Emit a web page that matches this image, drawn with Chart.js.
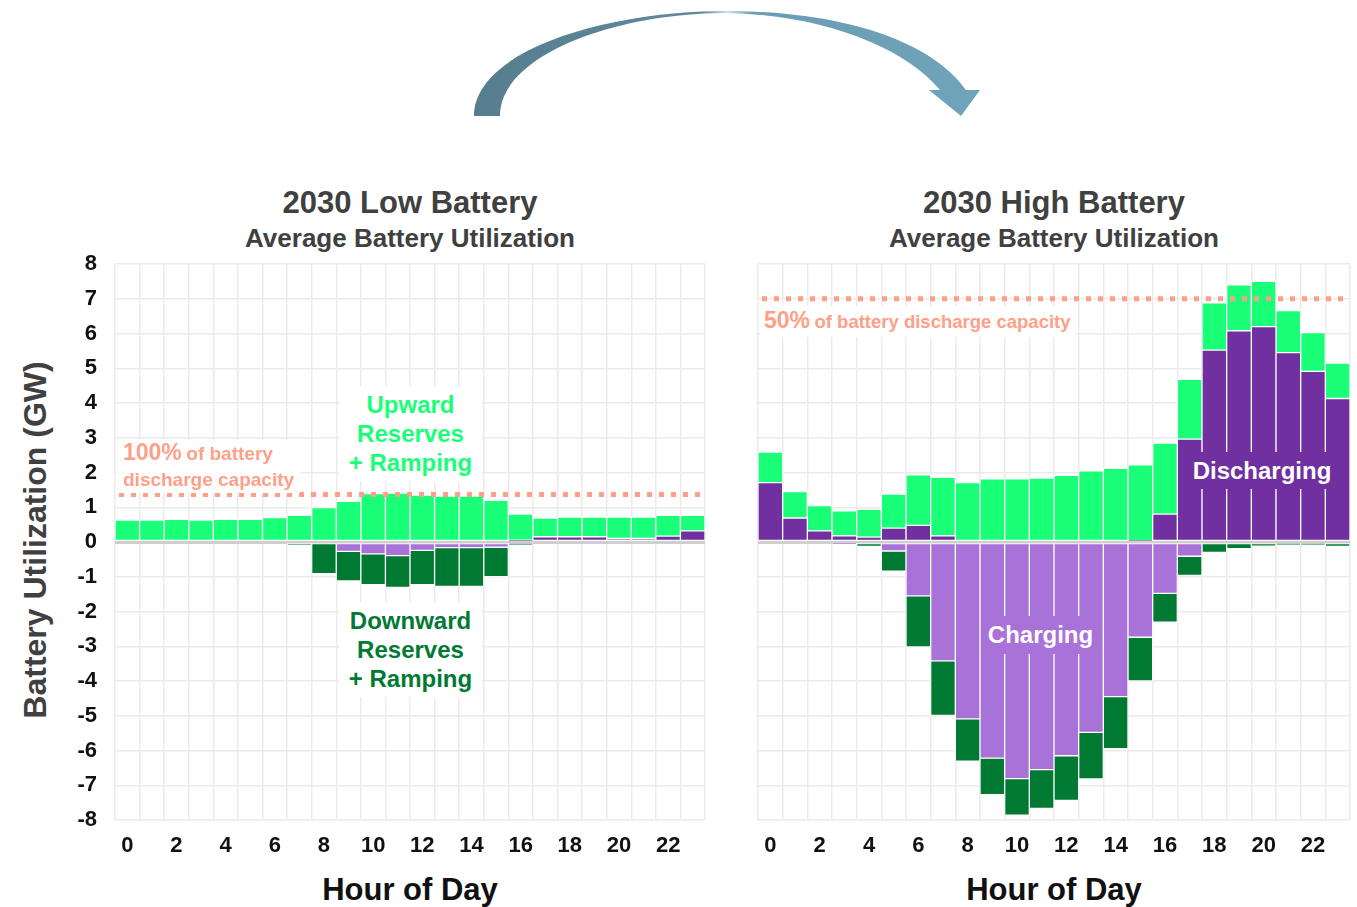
<!DOCTYPE html>
<html>
<head>
<meta charset="utf-8">
<script src="https://cdn.jsdelivr.net/npm/chart.js@4.4.0/dist/chart.umd.min.js"></script>
<style>
  body { margin: 0; background: #fff; width: 1357px; height: 907px; position: relative; overflow: hidden;
         font-family: "Liberation Sans", Arial, sans-serif; font-weight: bold; }
  .abs { position: absolute; }
  .title { color: #404040; text-align: center; width: 600px; white-space: nowrap; }
  .note { background: #fff; text-align: center; white-space: nowrap; }
  canvas { position: absolute; }
</style>
</head>
<body>

<svg class="abs" style="left:0;top:0" width="1357" height="140">
  <defs>
    <linearGradient id="arrowGrad" x1="470" y1="0" x2="985" y2="0" gradientUnits="userSpaceOnUse">
      <stop offset="0" stop-color="#557d8d"/>
      <stop offset="0.45" stop-color="#5f8a9c"/>
      <stop offset="0.5" stop-color="#cfe0e8"/>
      <stop offset="0.55" stop-color="#6a9cb2"/>
      <stop offset="1" stop-color="#6fa4ba"/>
    </linearGradient>
  </defs>
  <path fill="url(#arrowGrad)" d="M474 116 C474 52 600 12 723 11 C842 11 930 40 966 90 L980 90 L961 116 L929 90 L940 90
     C903 46 820 14 723 13 C612 14 500 56 500 116 Z"/>
</svg>

<div class="abs title" style="left:110px;top:184px;font-size:31px;line-height:38px">2030 Low Battery</div>
<div class="abs title" style="left:110px;top:223px;font-size:26px;line-height:30px">Average Battery Utilization</div>
<div class="abs title" style="left:754px;top:184px;font-size:31px;line-height:38px">2030 High Battery</div>
<div class="abs title" style="left:754px;top:223px;font-size:26px;line-height:30px">Average Battery Utilization</div>

<div class="abs" style="left:35px;top:540px;width:0;height:0">
  <div style="position:absolute;left:-300px;top:-20px;width:600px;text-align:center;line-height:40px;font-size:32px;color:#404040;transform:rotate(-90deg);white-space:nowrap">Battery Utilization (GW)</div>
</div>

<div class="abs title" style="left:110px;top:872px;font-size:31px;line-height:36px;color:#111">Hour of Day</div>
<div class="abs title" style="left:754px;top:872px;font-size:31px;line-height:36px;color:#111">Hour of Day</div>

<canvas id="lowChart" style="left:60px;top:250px" width="655" height="620"></canvas>
<canvas id="highChart" style="left:748px;top:250px" width="609" height="620"></canvas>

<div class="abs note" style="left:117px;top:440px;padding:0 6px;color:#ff9f87;text-align:left;line-height:25px">
  <span style="font-size:23px">100%</span> <span style="font-size:19px">of battery</span><br>
  <span style="font-size:19px">discharge capacity</span>
</div>
<div class="abs note" style="left:339px;top:386px;width:143px;padding:4px 0;font-size:24px;line-height:29px;color:#1aff78">
  Upward<br>Reserves<br>+ Ramping
</div>
<div class="abs note" style="left:339px;top:602px;width:143px;padding:4px 0;font-size:24px;line-height:29px;color:#007a33">
  Downward<br>Reserves<br>+ Ramping
</div>

<div class="abs note" style="left:760px;top:306px;padding:0 4px;color:#ff9f87;line-height:28px">
  <span style="font-size:23px">50%</span> <span style="font-size:18.5px">of battery discharge capacity</span>
</div>
<div class="abs note" style="left:1178px;top:452px;width:168px;height:37px;line-height:37px;font-size:24px;color:#fff;background:#7030a0">Discharging</div>
<div class="abs note" style="left:981px;top:616px;width:119px;height:38px;line-height:38px;font-size:24px;color:#fff;background:#a872d8">Charging</div>

<script>
const HOURS = ['0','1','2','3','4','5','6','7','8','9','10','11','12','13','14','15','16','17','18','19','20','21','22','23'];

// 2030 Low Battery (GW)
const LOW_DISCHARGING = [0, 0, 0, 0, 0, 0, 0, 0, 0, 0, 0, 0, 0, 0, 0, 0, 0.05, 0.15, 0.15, 0.15, 0.1, 0.1, 0.17, 0.32];
const LOW_UPWARD = [0.63, 0.63, 0.65, 0.63, 0.65, 0.65, 0.70, 0.77, 0.99, 1.17, 1.39, 1.41, 1.35, 1.32, 1.32, 1.20, 0.75, 0.54, 0.57, 0.57, 0.62, 0.62, 0.60, 0.45];
const LOW_CHARGING = [0, 0, 0, 0, 0, 0, 0, 0, 0, -0.27, -0.34, -0.39, -0.24, -0.16, -0.16, -0.15, 0, 0, 0, 0, 0, 0, 0, 0];
const LOW_DOWNWARD = [0, 0, 0, 0, 0, 0, 0, -0.1, -0.91, -0.85, -0.89, -0.92, -0.99, -1.12, -1.12, -0.85, -0.08, 0, 0, 0, 0, 0, 0, 0];
const LOW_CAPACITY = 1.37;

// 2030 High Battery (GW)
const HIGH_DISCHARGING = [1.71, 0.69, 0.32, 0.18, 0.14, 0.40, 0.48, 0.18, 0, 0, 0, 0, 0, 0, 0, 0.04, 0.80, 2.96, 5.52, 6.08, 6.20, 5.45, 4.91, 4.13];
const HIGH_UPWARD = [0.88, 0.76, 0.73, 0.72, 0.80, 0.98, 1.45, 1.68, 1.71, 1.82, 1.82, 1.84, 1.92, 2.05, 2.12, 2.18, 2.05, 1.72, 1.36, 1.32, 1.30, 1.21, 1.12, 1.02];
const HIGH_CHARGING = [0, 0, 0, -0.05, 0, -0.26, -1.55, -3.42, -5.09, -6.22, -6.81, -6.55, -6.15, -5.48, -4.45, -2.74, -1.48, -0.41, 0, 0, 0, 0, 0, 0];
const HIGH_DOWNWARD = [0, 0, 0, 0, -0.13, -0.58, -1.47, -1.57, -1.22, -1.05, -1.05, -1.12, -1.29, -1.34, -1.50, -1.26, -0.83, -0.55, -0.30, -0.19, -0.12, -0.08, -0.08, -0.13];
const HIGH_CAPACITY = 7.0;

const Y_MIN = -8, Y_MAX = 8;

// dotted capacity line drawn over the bars
const capacityLine = {
    id: 'capacityLine',
    afterDatasetsDraw(chart, args, opts) {
        const { ctx, chartArea, scales } = chart;
        const y = scales.y.getPixelForValue(opts.value);
        ctx.save();
        ctx.strokeStyle = '#ff9f87';
        ctx.lineWidth = 5;
        ctx.setLineDash([5, 7]);
        ctx.beginPath();
        ctx.moveTo(chartArea.left + 4, y);
        ctx.lineTo(chartArea.right, y);
        ctx.stroke();
        ctx.restore();
    }
};

function makeChart(id, discharging, upward, charging, downward, capacity, showYLabels) {
    const bar = { borderColor: '#ffffff', borderWidth: 1, borderSkipped: false, barPercentage: 1, categoryPercentage: 1 };
    new Chart(document.getElementById(id), {
        type: 'bar',
        data: {
            labels: HOURS,
            datasets: [
                Object.assign({ label: 'Discharging', data: discharging, backgroundColor: '#7030a0' }, bar),
                Object.assign({ label: 'Upward Reserves + Ramping', data: upward, backgroundColor: '#1aff78' }, bar),
                Object.assign({ label: 'Charging', data: charging, backgroundColor: '#a872d8' }, bar),
                Object.assign({ label: 'Downward Reserves + Ramping', data: downward, backgroundColor: '#007a33' }, bar)
            ]
        },
        options: {
            responsive: false,
            animation: false,
            layout: { padding: { top: 14, right: showYLabels ? 10 : 7, left: 0, bottom: 0 } },
            plugins: {
                legend: { display: false },
                tooltip: { enabled: false },
                capacityLine: { value: capacity }
            },
            scales: {
                x: {
                    stacked: true,
                    border: { display: false },
                    grid: { color: '#ebebeb', lineWidth: 1.5, drawTicks: false },
                    ticks: {
                        autoSkip: false, maxRotation: 0, padding: 13, color: '#111',
                        font: { family: 'Liberation Sans', weight: 'bold', size: 22 },
                        callback: (v, i) => (i % 2 === 0 ? HOURS[i] : '')
                    },
                    afterFit: s => { s.height = 50; s.paddingLeft = 0; s.paddingRight = 0; }
                },
                y: {
                    stacked: true,
                    min: Y_MIN, max: Y_MAX,
                    border: { display: false },
                    grid: {
                        drawTicks: false,
                        color: c => (c.tick && c.tick.value === 0 ? '#cfcfcf' : '#ebebeb'),
                        lineWidth: c => (c.tick && c.tick.value === 0 ? 3 : 1.5)
                    },
                    ticks: {
                        display: showYLabels, stepSize: 1, padding: 18, color: '#111',
                        font: { family: 'Liberation Sans', weight: 'bold', size: 22 }
                    },
                    afterFit: s => { s.width = showYLabels ? 55 : 10; s.paddingTop = 0; s.paddingBottom = 0; }
                }
            }
        },
        plugins: [capacityLine]
    });
}

makeChart('lowChart', LOW_DISCHARGING, LOW_UPWARD, LOW_CHARGING, LOW_DOWNWARD, LOW_CAPACITY, true);
makeChart('highChart', HIGH_DISCHARGING, HIGH_UPWARD, HIGH_CHARGING, HIGH_DOWNWARD, HIGH_CAPACITY, false);
</script>
</body>
</html>
